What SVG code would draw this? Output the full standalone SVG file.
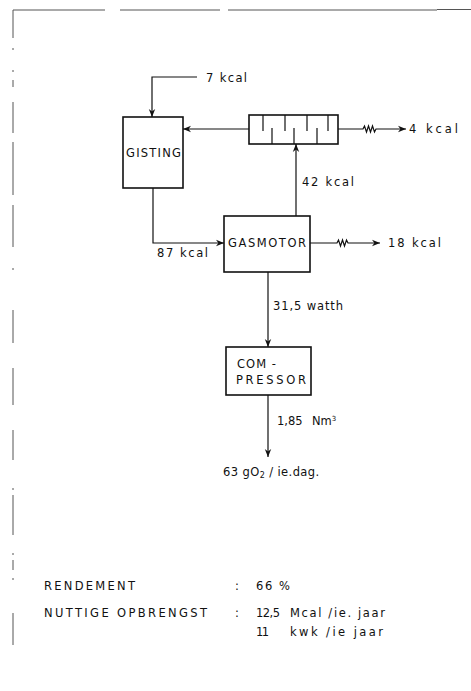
<svg xmlns="http://www.w3.org/2000/svg" width="471" height="691" viewBox="0 0 471 691">
<defs>
<style>
.ln{fill:none;stroke:#111;stroke-width:1.2}
.bx{fill:#fff;stroke:#111;stroke-width:1.6}
.bd{fill:none;stroke:#555;stroke-width:1}
text{font-family:"DejaVu Sans","Liberation Sans",Arial,sans-serif;font-size:11.5px;fill:#111}
</style>
<marker id="ah" viewBox="0 0 10 10" refX="10" refY="5" markerWidth="8" markerHeight="8" orient="auto" markerUnits="userSpaceOnUse">
<path d="M0,1 L10,5 L0,9 L3,5 Z" fill="#111"/>
</marker>
</defs>
<rect width="471" height="691" fill="#fff"/>
<g id="border">
<path class="bd" d="M13,10 H105 M120,10 H220 M228,10 H437 M437,9.5 H471"/>
<path class="bd" d="M13,10 V38 M13,48 V50 M13,70 V72 M13,80 V87 M13,102 V133 M13,142 V195 M13,205 V247 M13,268 V270 M13,310 V343 M13,368 V405 M13,430 V460 M13,488 V490 M13,495 V535 M13,553 V555 M13,560 V570 M13,578 V580 M13,613 V645"/>
</g>
<g id="connectors">
<path class="ln" d="M197,77 H152 V117" marker-end="url(#ah)"/>
<path class="ln" d="M249,129 H183" marker-end="url(#ah)"/>
<path class="ln" d="M338,129 H363 l1.5,-3 l2,6 l2,-6 l2,6 l2,-6 l2,6 l1.5,-3 H406" marker-end="url(#ah)"/>
<path class="ln" d="M296,216 V144" marker-end="url(#ah)"/>
<path class="ln" d="M153,188 V243 H224" marker-end="url(#ah)"/>
<path class="ln" d="M310,243 H337 l1.5,-3 l2,6 l2,-6 l2,6 l2,-6 l1.5,3 H380" marker-end="url(#ah)"/>
<path class="ln" d="M268,272 V347" marker-end="url(#ah)"/>
<path class="ln" d="M268,395 V457" marker-end="url(#ah)"/>
</g>
<g id="gisting">
<rect class="bx" x="123" y="117" width="60" height="71"/>
<text x="126" y="157" textLength="55" lengthAdjust="spacing">GISTING</text>
</g>
<g id="warmtewisselaar">
<rect class="bx" x="249" y="115" width="89" height="29"/>
<path class="ln" d="M263,115 V131 M285,115 V131 M307,115 V131 M328,115 V131 M272,144 V128 M294,144 V128 M317,144 V128"/>
</g>
<g id="gasmotor">
<rect class="bx" x="224" y="216" width="86" height="56"/>
<text x="228" y="247" textLength="78" lengthAdjust="spacing">GASMOTOR</text>
</g>
<g id="compressor">
<rect class="bx" x="226" y="347" width="85" height="48"/>
<text x="237" y="368" textLength="39" lengthAdjust="spacing">COM -</text>
<text x="236" y="384" textLength="70" lengthAdjust="spacing">PRESSOR</text>
</g>
<g id="labels">
<text x="206" y="82" textLength="41" lengthAdjust="spacing">7 kcal</text>
<text x="409" y="133" textLength="49" lengthAdjust="spacing">4 kcal</text>
<text x="302" y="186" textLength="52" lengthAdjust="spacing">42 kcal</text>
<text x="157" y="257" textLength="51" lengthAdjust="spacing">87 kcal</text>
<text x="388" y="247" textLength="53" lengthAdjust="spacing">18 kcal</text>
<text x="273" y="310" textLength="70" lengthAdjust="spacing">31,5 watth</text>
<text x="277" y="425">1,85<tspan x="312">Nm</tspan><tspan dy="-4" font-size="7">3</tspan></text>
<text x="223" y="476" letter-spacing="0.4">63 gO<tspan dy="2" font-size="8">2</tspan><tspan dy="-2"> / ie.dag.</tspan></text>
</g>
<g id="summary">
<text x="44" y="590" textLength="91" lengthAdjust="spacing">RENDEMENT</text>
<text x="235" y="590">:</text>
<text x="256" y="590" textLength="34" lengthAdjust="spacing">66 %</text>
<text x="44" y="617" textLength="163" lengthAdjust="spacing">NUTTIGE OPBRENGST</text>
<text x="235" y="617">:</text>
<text x="256" y="617" textLength="24" lengthAdjust="spacing">12,5</text>
<text x="290" y="617" textLength="95" lengthAdjust="spacing">Mcal /ie. jaar</text>
<text x="256" y="636" textLength="13" lengthAdjust="spacing">11</text>
<text x="290" y="636" textLength="93" lengthAdjust="spacing">kwk /ie jaar</text>
</g>
</svg>
